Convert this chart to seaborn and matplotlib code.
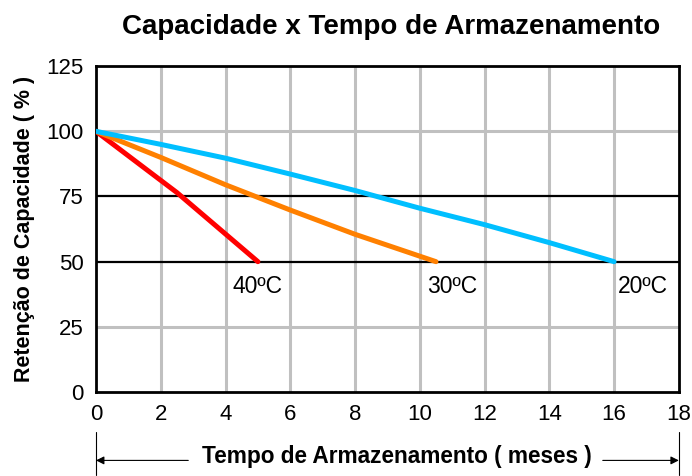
import pandas as pd
import matplotlib
matplotlib.use("Agg")
import matplotlib.pyplot as plt
import seaborn as sns

# values
meses_40 = [0, 2.5, 5]
ret_40 = [100, 76.5, 50]
meses_30 = [0, 2, 4, 6, 8, 10.5]
ret_30 = [100, 90, 79.5, 69.8, 60.5, 50]
meses_20 = [0, 2, 4, 6, 8, 10, 12, 14, 16]
ret_20 = [100, 95, 89.7, 83.6, 77.3, 70.5, 64.2, 57.3, 50]
rotulos = ["40ºC", "30ºC", "20ºC"]
cores = ["#ff0000", "#ff8000", "#00bfff"]

df = pd.concat([
    pd.DataFrame({"meses": meses_40, "ret": ret_40, "temp": rotulos[0]}),
    pd.DataFrame({"meses": meses_30, "ret": ret_30, "temp": rotulos[1]}),
    pd.DataFrame({"meses": meses_20, "ret": ret_20, "temp": rotulos[2]}),
])

sns.set_style("white")
plt.rcParams['font.family'] = ['Liberation Sans', 'DejaVu Sans']
plt.rcParams['text.color'] = 'black'
plt.rcParams['xtick.color'] = 'black'
plt.rcParams['ytick.color'] = 'black'
plt.rcParams['axes.labelcolor'] = 'black'

fig = plt.figure(figsize=(6.92, 4.76), dpi=100)
ax = fig.add_axes([0.1387, 0.1765, 0.8423, 0.6845])

# grid
for x in range(2, 18, 2):
    ax.axvline(x, color="#c0c0c0", lw=2.2, zorder=1)
for y in [25, 100]:
    ax.axhline(y, color="#c0c0c0", lw=2.2, zorder=1)
for y in [50, 75]:
    ax.axhline(y, color="black", lw=1.6, zorder=1)

sns.lineplot(data=df, x="meses", y="ret", hue="temp", palette=cores,
             sort=False, lw=3.6, legend=False, ax=ax, zorder=3)

# end labels
for xe, txt in zip([5.0, 11.0, 16.9], rotulos):
    ax.text(xe, 40.5, txt, ha="center", va="center", fontsize=16.5)

ax.set_xlim(0, 18)
ax.set_ylim(0, 125)
ax.set_xticks(range(0, 19, 2))
ax.set_yticks(range(0, 126, 25))
ax.tick_params(length=0, labelsize=16, pad=9)
for s in ax.spines.values():
    s.set_visible(True)
    s.set_color("black")
    s.set_linewidth(2)

ax.set_xlabel("")
ax.set_ylabel("Retenção de Capacidade ( % )", fontsize=15.5, fontweight="bold", labelpad=8)
fig.suptitle("Capacidade x Tempo de Armazenamento", fontsize=20, fontweight="bold",
             x=0.565, y=0.97)

# x-axis label with arrows
tr = ax.get_xaxis_transform()
ax.text(9.3, -0.197, "Tempo de Armazenamento ( meses )", transform=tr, ha="center",
        va="center", fontsize=16.3, fontweight="bold")
for xe in [0, 18]:
    ax.plot([xe, xe], [-0.123, -0.255], transform=tr, color="black", lw=0.8, clip_on=False)
ax.annotate("", xy=(0, -0.21), xytext=(2.85, -0.21), xycoords=tr, textcoords=tr,
            arrowprops=dict(arrowstyle="-|>", color="black", lw=0.8, mutation_scale=12,
                            shrinkA=0, shrinkB=0))
ax.annotate("", xy=(18, -0.21), xytext=(15.65, -0.21), xycoords=tr, textcoords=tr,
            arrowprops=dict(arrowstyle="-|>", color="black", lw=0.8, mutation_scale=12,
                            shrinkA=0, shrinkB=0))

fig.savefig("out.png", dpi=100)
